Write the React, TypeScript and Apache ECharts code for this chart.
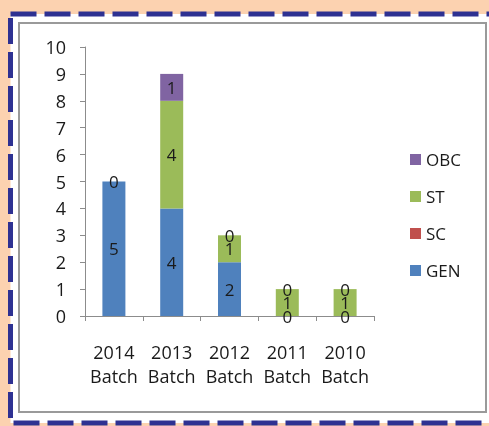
import React, { useEffect, useRef } from "react";
import * as echarts from "echarts";

const categories = ["2014\nBatch", "2013\nBatch", "2012\nBatch", "2011\nBatch", "2010\nBatch"];
const genValues = [5, 4, 2, 0, 0];
const scValues: (number | null)[] = [null, null, null, null, null];
const stValues: (number | null)[] = [0, 4, 1, 1, 1];
const obcValues: (number | null)[] = [null, 1, 0, 0, 0];
const yTicks = [0, 10, 1];

const FONT = "'Open Sans', 'Liberation Sans', sans-serif";

export default function App() {
  const ref = useRef<HTMLDivElement>(null);
  useEffect(() => {
    if (!ref.current) return;
    const chart = echarts.init(ref.current, undefined, { renderer: "svg" });
    const label = {
      show: true,
      position: "inside" as const,
      color: "#1a1a1a",
      fontSize: 17,
      fontFamily: FONT,
    };
    const mk = (name: string, data: (number | null)[], color: string) => ({
      name,
      type: "bar" as const,
      stack: "total",
      data,
      barWidth: 23,
      itemStyle: { color },
      label,
    });
    chart.setOption({
      animation: false,
      textStyle: { fontFamily: FONT },
      graphic: [
        { type: "rect", z: -10, shape: { x: 0, y: 0, width: 489, height: 426 }, style: { fill: "#FCD2B0" } },
        {
          type: "rect",
          z: -9,
          shape: { x: 10.5, y: 14, width: 490, height: 409 },
          style: { fill: "#ffffff", stroke: "#2E3192", lineWidth: 5, lineDash: [26, 8] },
        },
        {
          type: "rect",
          z: -8,
          shape: { x: 19, y: 23, width: 467, height: 389 },
          style: { fill: "#ffffff", stroke: "#9a9a9a", lineWidth: 2 },
        },
      ],
      grid: { left: 85, right: 115, top: 47, bottom: 110, containLabel: false },
      legend: {
        orient: "vertical",
        left: 405,
        top: 146,
        itemGap: 20,
        itemWidth: 11,
        itemHeight: 11,
        icon: "rect",
        data: ["OBC", "ST", "SC", "GEN"],
        textStyle: { fontSize: 17, color: "#1a1a1a", fontFamily: FONT },
      },
      xAxis: {
        type: "category",
        data: categories,
        axisLine: { lineStyle: { color: "#8c8c8c" } },
        axisTick: { show: true, length: 5, lineStyle: { color: "#8c8c8c" } },
        axisLabel: {
          interval: 0,
          hideOverlap: false,
          fontSize: 18,
          color: "#1a1a1a",
          lineHeight: 24,
          margin: 24,
          fontFamily: FONT,
        },
      },
      yAxis: {
        type: "value",
        min: yTicks[0],
        max: yTicks[1],
        interval: yTicks[2],
        axisLine: { show: true, lineStyle: { color: "#8c8c8c" } },
        axisTick: { show: true, length: 5, lineStyle: { color: "#8c8c8c" } },
        splitLine: { show: false },
        axisLabel: { fontSize: 18, color: "#1a1a1a", margin: 19, fontFamily: FONT },
      },
      series: [
        mk("GEN", genValues, "#4F81BD"),
        mk("SC", scValues, "#C0504D"),
        mk("ST", stValues, "#9BBB59"),
        mk("OBC", obcValues, "#8064A2"),
      ],
    });
    return () => chart.dispose();
  }, []);
  return (
    <div style={{ position: "fixed", left: 0, top: 0, width: 489, height: 426 }}>
      <div ref={ref} style={{ width: 489, height: 426 }} />
    </div>
  );
}
